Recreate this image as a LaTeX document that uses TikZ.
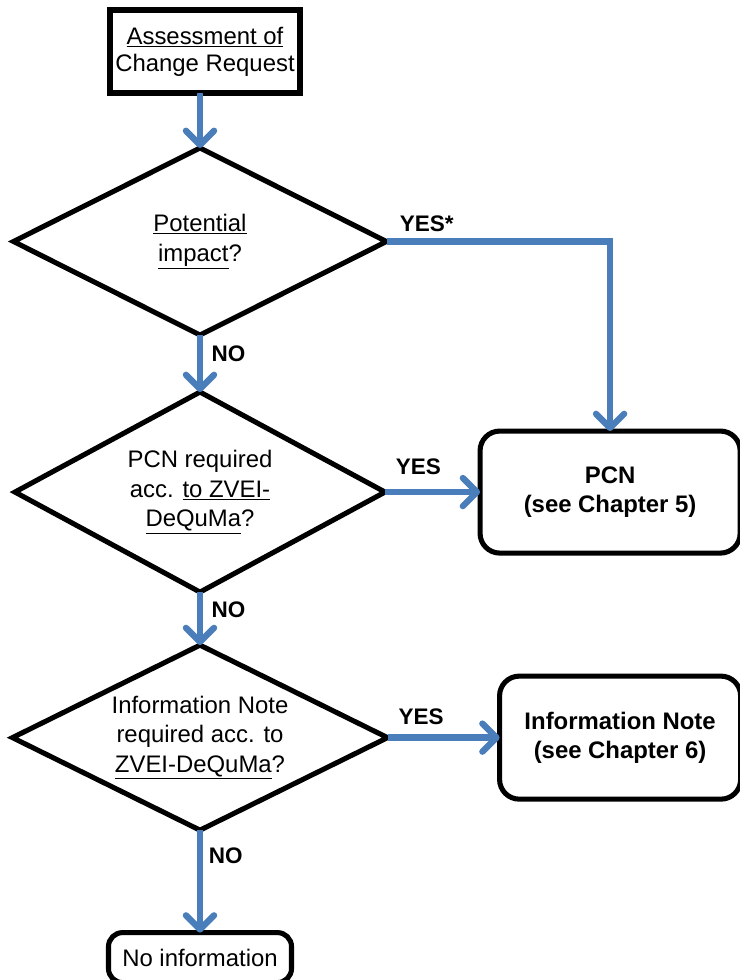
\documentclass[tikz,border=0pt]{standalone}
\usepackage{fontspec}
\setmainfont{Liberation Sans}
\usetikzlibrary{shapes.geometric,arrows.meta,positioning}
\definecolor{flowblue}{HTML}{4A7EBB}

\begin{document}
\begin{tikzpicture}[x=0.025cm,y=-0.025cm,
  decision/.style={draw, shape=diamond, aspect=2, inner sep=0pt, outer sep=0pt, line width=3.6pt, align=center, font=\fontsize{17}{21}\selectfont},
  process/.style={draw, shape=rectangle, outer sep=0pt, line width=3.6pt, align=center, font=\fontsize{17}{19}\selectfont},
  outcome/.style={draw, shape=rectangle, rounded corners=14pt, outer sep=0pt, line width=3.6pt, align=center, font=\bfseries\fontsize{17}{21}\selectfont},
  flow/.style={draw=flowblue, line width=4.5pt, -{Straight Barb[length=10pt,width=20pt,round]}},
  lbl/.style={font=\bfseries\fontsize{16}{19}\selectfont, inner sep=2pt}]
\useasboundingbox (0,0) rectangle (740,980);

\node[process, minimum width=4.75cm, minimum height=2.075cm] (assess) at (205,51.5) {\underline{Assessment of}\\Change Request};
\node[decision, minimum width=9.325cm, minimum height=4.675cm] (pot) at (200,241.5) {\underline{Potential}\\\underline{impact}?};
\node[decision, minimum width=9.25cm, minimum height=5cm] [below = 1.425cm of pot] (req) {PCN required\\acc. \underline{to ZVEI-}\\\underline{DeQuMa}?};
\node[decision, minimum width=9.375cm, minimum height=4.625cm] [below = 1.325cm of req] (info) {Information Note\\required acc. to\\\underline{ZVEI-DeQuMa}?};
\node[outcome, minimum width=6.5cm, minimum height=3.05cm] [right = 2.375cm of req] (pcn) {PCN\\(see Chapter 5)};
\node[outcome, minimum width=6.025cm, minimum height=3.075cm] [right = 2.8cm of info] (note) {Information Note\\(see Chapter 6)};
\node[process, rounded corners=10pt, minimum width=4.575cm, minimum height=1.25cm] [below = 2.56cm of info] (none) {No information};

\draw[flow] (assess.south -| pot.north) -- (pot.north);
\draw[flow] (pot.east) -| node[lbl, pos=0.09, above, yshift=3pt] {YES*} (pcn.north);
\draw[flow] (pot.south) -- node[lbl, pos=0.32, right, xshift=4pt] {NO} (req.north);
\draw[flow] (req.east) -- node[lbl, pos=0.35, above, yshift=8pt] {YES} (pcn.west);
\draw[flow] (req.south) -- node[lbl, pos=0.34, right, xshift=4pt] {NO} (info.north);
\draw[flow] (info.east) -- node[lbl, pos=0.3, above, yshift=5pt] {YES} (note.west);
\draw[flow] (info.south) -- node[lbl, pos=0.25, right, xshift=2pt] {NO} (none.north);
\end{tikzpicture}
\end{document}
